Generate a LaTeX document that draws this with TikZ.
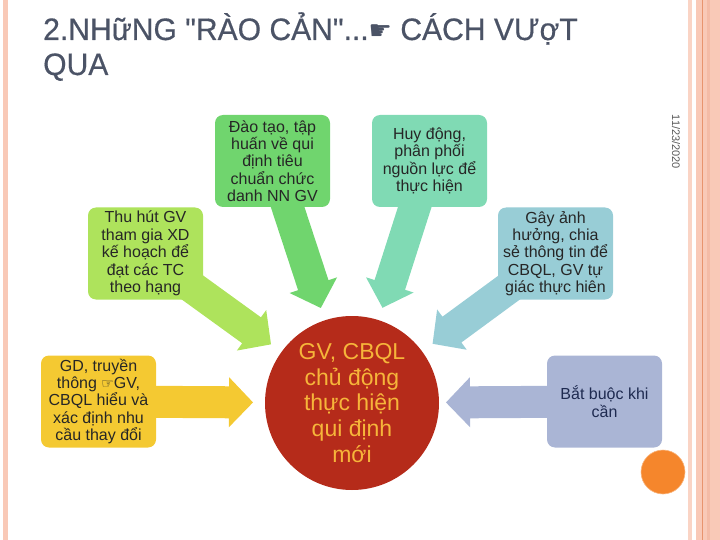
\documentclass[tikz,border=0pt]{standalone}
\usepackage{fontspec}
\setmainfont{Liberation Sans}[Ligatures=TeXOff]
\newfontfamily\titlefont{Liberation Sans}[Ligatures=TeXOff, FakeStretch=0.97, FakeBold=0.5]
\newfontfamily\symfont{DejaVu Sans}
\usetikzlibrary{calc,backgrounds}
\definecolor{titlec}{HTML}{4B5366}
\definecolor{boxtext}{HTML}{262626}
\definecolor{navytext}{HTML}{1E2A50}
\definecolor{cgreen}{HTML}{70D56E}
\definecolor{cteal}{HTML}{80DAB4}
\definecolor{clime}{HTML}{AEE35C}
\definecolor{cblue}{HTML}{98CDD6}
\definecolor{cyellow}{HTML}{F4C932}
\definecolor{clav}{HTML}{AAB5D5}
\definecolor{circred}{HTML}{B52B1A}
\definecolor{circtext}{HTML}{F6B53A}
\definecolor{dotorange}{HTML}{F5862C}
\definecolor{pinkband}{HTML}{F9C9B7}
\definecolor{pinkdark}{HTML}{F4BBA6}
\definecolor{pinkline}{HTML}{E8946E}
\newcommand\blockarr[3]{%
  \coordinate (#1tip) at ($(c.center)!#2!(#1.center)$);
  \coordinate (#1hb) at ($(#1tip)!24pt!(#1.center)$);
  \fill[#3] ($(#1.center)!16pt!90:(#1tip)$) -- ($(#1hb)!16pt!90:(#1tip)$)
    -- ($(#1hb)!25pt!90:(#1tip)$) -- (#1tip) -- ($(#1hb)!25pt!-90:(#1tip)$)
    -- ($(#1hb)!16pt!-90:(#1tip)$) -- ($(#1.center)!16pt!-90:(#1tip)$) -- cycle;}
\tikzset{
  boxsty/.style={rounded corners=8pt, minimum width=115pt, minimum height=92pt,
    inner sep=0pt, align=center, font=\fontsize{16}{17.4}\selectfont, text=boxtext},
  titlesty/.style={anchor=base west, inner sep=0pt, text=titlec,
    font=\titlefont\fontsize{31}{31}\selectfont}
}
\begin{document}
\begin{tikzpicture}[x=1pt,y=-1pt]
\useasboundingbox (0,0) rectangle (720,540);
% title
\node[titlesty] (title1) at (43,40) {2.NHữNG "RÀO CẢN"...{\symfont\fontsize{26}{26}\selectfont ☛} CÁCH VƯợT};
\node[titlesty] (title2) at (43,75) {QUA};
% date
\node[rotate=-90, inner sep=0pt, text=black!65, font=\fontsize{11}{11}\selectfont] (date) at (676,142) {11/23/2020};
% boxes
\node[boxsty, fill=cgreen] (b1) at (272.5,161) {Đào tạo, tập\\huấn về qui\\định tiêu\\chuẩn chức\\danh NN GV};
\node[boxsty, fill=cteal] (b2) at (429.5,161) {Huy động,\\phân phối\\nguồn lực để\\thực hiện};
\node[boxsty, fill=clime] (b3) at (145.5,253.5) {Thu hút GV\\tham gia XD\\kế hoạch để\\đạt các TC\\theo hạng};
\node[boxsty, fill=cblue] (b4) at (555.5,253.5) {Gây ảnh\\hưởng, chia\\sẻ thông tin để\\CBQL, GV tự\\giác thực hiên};
\node[boxsty, fill=cyellow] (b5) at (98.5,401.5) {GD, truyền\\thông {\symfont\fontsize{14}{14}\selectfont ☞}GV,\\CBQL hiểu và\\xác định nhu\\cầu thay đổi};
\node[boxsty, fill=clav, text=navytext] (b6) at (604.5,401.5) {Bắt buộc khi\\cần};
% centre
\node[circle, fill=circred, minimum size=174pt, inner sep=0pt, align=center,
  text=circtext, font=\fontsize{23}{25.8}\selectfont] (c) at (352,403)
  {GV, CBQL\\chủ động\\thực hiện\\qui định\\mới};
% dot
\node[circle, fill=dotorange, draw=dotorange!60!white, line width=0.6pt, minimum size=44pt, inner sep=0pt] (dot) at (663,472) {};
\begin{pgfonlayer}{background}
  \fill[pinkband] (3,0) rectangle (8,540);
  \fill[pinkband!80!white] (688,0) rectangle (692,540);
  \fill[pinkband] (696,0) rectangle (720,540);
  \fill[pinkdark] (707,0) rectangle (710,540);
  \fill[pinkline] (702,0) rectangle (703.2,540);
  \blockarr{b1}{100pt}{cgreen}
  \blockarr{b2}{100pt}{cteal}
  \blockarr{b3}{100pt}{clime}
  \blockarr{b4}{100pt}{cblue}
  \blockarr{b5}{99pt}{cyellow}
  \blockarr{b6}{94pt}{clav}
\end{pgfonlayer}
\end{tikzpicture}
\end{document}
